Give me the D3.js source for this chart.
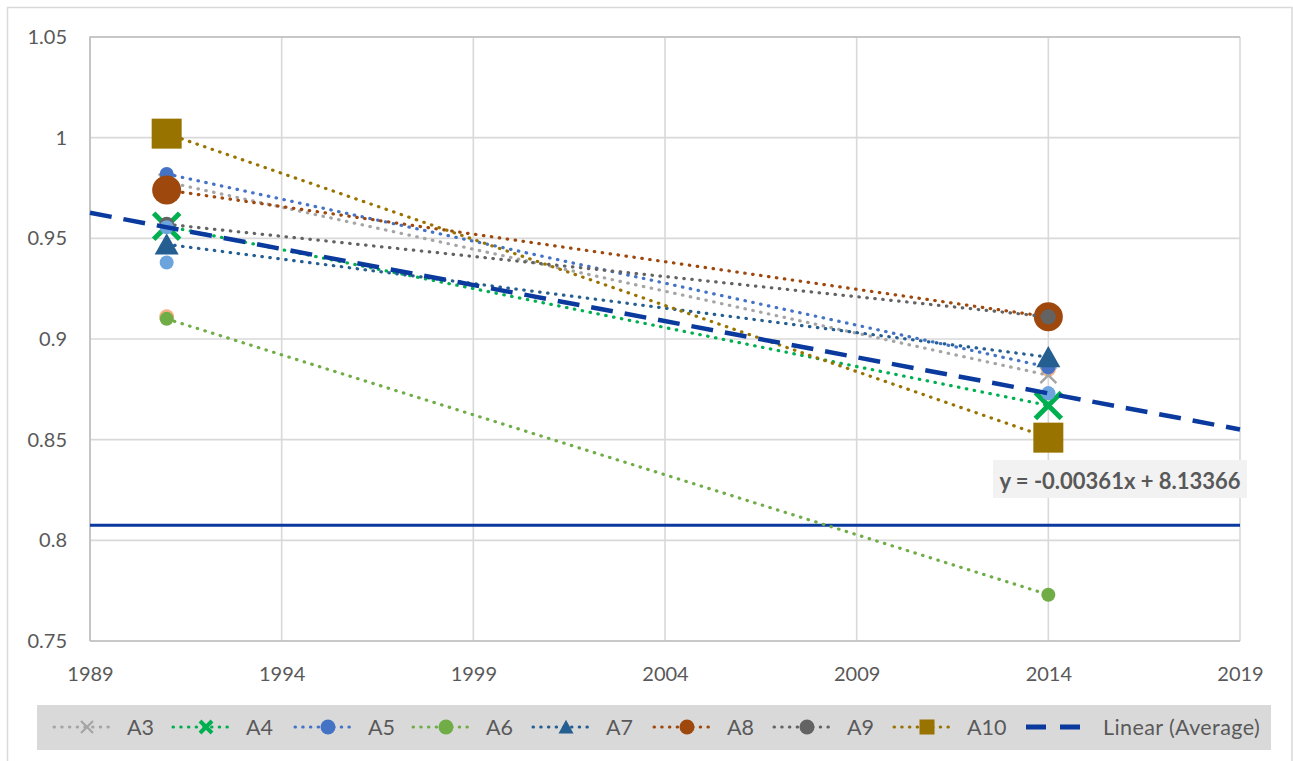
<!DOCTYPE html>
<html>
<head>
<meta charset="utf-8">
<script src="https://cdn.jsdelivr.net/npm/d3@7"></script>
<style>
  html, body { margin: 0; padding: 0; background: #ffffff; }
  svg { display: block; font-family: Lato, "Open Sans", sans-serif; }
</style>
</head>
<body>
<svg id="chart" width="1293" height="761"></svg>
<script>
// ---------------- data ----------------
const years = [1991, 2014];
const A1  = [0.938, 0.873];
const A2  = [0.911, 0.885];
const A3  = [0.978, 0.882];
const A4  = [0.956, 0.867];
const A5  = [0.982, 0.886];
const A6  = [0.910, 0.773];
const A7  = [0.947, 0.891];
const A8  = [0.974, 0.911];
const A9  = [0.957, 0.911];
const A10 = [1.002, 0.851];
const referenceValue = 0.8075;
const xTickValues = [1989, 1994, 1999, 2004, 2009, 2014, 2019];
const yTickValues = [0.75, 0.8, 0.85, 0.9, 0.95, 1, 1.05];
const trendLabel = "y = -0.00361x + 8.13366";
const legendNames = ["A3", "A4", "A5", "A6", "A7", "A8", "A9", "A10"];

// ---------------- styles ----------------
const seriesDefs = [
  { name: "A1",  values: A1,  color: "#6CA5DE", marker: "circle", size: 7,  line: false },
  { name: "A2",  values: A2,  color: "#F4B183", marker: "circle", size: 7.5, line: false },
  { name: "A3",  values: A3,  color: "#A5A5A5", marker: "x",      size: 8,  sw: 2.5, line: true },
  { name: "A4",  values: A4,  color: "#00B050", marker: "x",      size: 13, sw: 5, line: true },
  { name: "A5",  values: A5,  color: "#4472C4", marker: "circle", size: 7,  line: true },
  { name: "A6",  values: A6,  color: "#70AD47", marker: "circle", size: 7,  line: true },
  { name: "A7",  values: A7,  color: "#255E91", marker: "triangle", size: 12, line: true },
  { name: "A8",  values: A8,  color: "#9E480E", marker: "circle", size: 14.5, line: true },
  { name: "A9",  values: A9,  color: "#636363", marker: "circle", size: 7.5, line: true },
  { name: "A10", values: A10, color: "#997300", marker: "square", size: 15, line: true }
];
const averageValues = years.map((_, i) => d3.mean(seriesDefs, s => s.values[i]));
const trendColor = "#0A3A9E";

const svg = d3.select("#chart");
const W = 1293, H = 761;
svg.append("rect").attr("width", W).attr("height", H).attr("fill", "#fff");
svg.append("rect").attr("x", 7.5).attr("y", 7.5).attr("width", 1284.5).attr("height", 780)
  .attr("fill", "none").attr("stroke", "#D9D9D9").attr("stroke-width", 1.5);

const x = d3.scaleLinear().domain([1989, 2019]).range([90, 1240]);
const y = d3.scaleLinear().domain([0.75, 1.05]).range([641, 37]);

// gridlines
const grid = svg.append("g");
grid.selectAll(".hg").data(yTickValues).join("line")
  .attr("x1", x.range()[0]).attr("x2", x.range()[1])
  .attr("y1", d => y(d)).attr("y2", d => y(d))
  .attr("stroke", "#D9D9D9").attr("stroke-width", 1.6);
grid.selectAll(".vg").data(xTickValues).join("line")
  .attr("x1", d => x(d)).attr("x2", d => x(d))
  .attr("y1", y.range()[0]).attr("y2", y.range()[1])
  .attr("stroke", "#D9D9D9").attr("stroke-width", 1.6);
svg.append("path")
  .attr("d", `M${x(1989)},${y(0.75)}V${y(1.05)}H${x(2019)}`)
  .attr("fill", "none").attr("stroke", "#BFBFBF").attr("stroke-width", 1.6);
svg.append("line").attr("x1", x(1989)).attr("x2", x(2019)).attr("y1", y(0.75)).attr("y2", y(0.75))
  .attr("stroke", "#BFBFBF").attr("stroke-width", 1.6);

// axes
const yAxis = svg.append("g").attr("transform", `translate(${x(1989)},0)`)
  .call(d3.axisLeft(y).tickValues(yTickValues).tickSize(0).tickPadding(23)
    .tickFormat(d => d3.format("")(+d.toFixed(2))));
const xAxis = svg.append("g").attr("transform", `translate(0,${y(0.75)})`)
  .call(d3.axisBottom(x).tickValues(xTickValues).tickSize(0).tickPadding(26).tickFormat(d3.format("d")));
[yAxis, xAxis].forEach(a => {
  a.select(".domain").remove();
  a.selectAll("text").attr("fill", "#595959").style("font-size", "20px").style("font-family", "Lato");
});

// reference horizontal line
svg.append("line")
  .attr("x1", x(1989)).attr("x2", x(2019))
  .attr("y1", y(referenceValue)).attr("y2", y(referenceValue))
  .attr("stroke", trendColor).attr("stroke-width", 3);

// marker drawing
function drawMarker(g, type, size, color, sw) {
  if (type === "circle") {
    g.append("circle").attr("r", size).attr("fill", color);
  } else if (type === "square") {
    g.append("rect").attr("x", -size).attr("y", -size).attr("width", 2 * size).attr("height", 2 * size).attr("fill", color);
  } else if (type === "triangle") {
    const h = size * 1.7;
    g.append("path").attr("d", `M0,${-h / 2 - 1}L${size},${h / 2}L${-size},${h / 2}Z`).attr("fill", color);
  } else if (type === "x") {
    g.append("path").attr("d", `M${-size},${-size}L${size},${size}M${size},${-size}L${-size},${size}`)
      .attr("stroke", color).attr("stroke-width", sw).attr("fill", "none");
  }
}

const dotDash = "0.5 7.5";
const lineGen = d3.line().x((d, i) => x(years[i])).y(d => y(d));
seriesDefs.forEach(s => {
  const g = svg.append("g");
  if (s.line) {
    g.append("path").attr("d", lineGen(s.values)).attr("fill", "none")
      .attr("stroke", s.color).attr("stroke-width", 3.2).attr("stroke-linecap", "round")
      .attr("stroke-dasharray", dotDash);
  }
  s.values.forEach((v, i) => {
    const m = g.append("g").attr("transform", `translate(${x(years[i])},${y(v)})`);
    drawMarker(m, s.marker, s.size, s.color, s.sw);
  });
});

// average markers
averageValues.forEach((v, i) => {
  const m = svg.append("g").attr("transform", `translate(${x(years[i])},${y(v)})`);
  drawMarker(m, "circle", 7, "#6CA5DE");
});

// linear trendline of average (least squares)
const mx = d3.mean(years), my = d3.mean(averageValues);
const slope = d3.sum(years, (t, i) => (t - mx) * (averageValues[i] - my)) / d3.sum(years, t => (t - mx) ** 2);
const icpt = my - slope * mx;
svg.append("line")
  .attr("x1", x(1989)).attr("y1", y(icpt + slope * 1989))
  .attr("x2", x(2019)).attr("y2", y(icpt + slope * 2019))
  .attr("stroke", trendColor).attr("stroke-width", 4.5).attr("stroke-dasharray", "22 12");

// trendline label
const lbl = svg.append("g").attr("transform", "translate(1120,481)");
lbl.append("rect").attr("x", -127).attr("y", -21).attr("width", 254).attr("height", 38).attr("fill", "#F2F2F2");
lbl.append("text").attr("text-anchor", "middle").attr("y", 7.5)
  .attr("fill", "#595959").style("font-weight", "bold").style("font-size", "22px")
  .text(trendLabel);

// legend
const legend = svg.append("g");
legend.append("rect").attr("x", 37).attr("y", 705).attr("width", 1234).attr("height", 45).attr("fill", "#D9D9D9");
const legendX = [87, 206, 328, 446, 566, 687, 807, 927];
const legendY = 727;
legendNames.forEach((n, i) => {
  const s = seriesDefs.find(d => d.name === n);
  const cx = legendX[i];
  const g = legend.append("g");
  g.append("line").attr("x1", cx - 33).attr("x2", cx + 25).attr("y1", legendY).attr("y2", legendY)
    .attr("stroke", s.color).attr("stroke-width", 3).attr("stroke-linecap", "round").attr("stroke-dasharray", "0.5 7.2");
  const m = g.append("g").attr("transform", `translate(${cx},${legendY})`);
  const sz = s.marker === "x" ? 6 : 7.5;
  drawMarker(m, s.marker, sz, s.color, s.marker === "x" ? (n === "A4" ? 4 : 2.2) : 0);
  g.append("text").attr("x", cx + 40).attr("y", legendY + 8).attr("fill", "#595959")
    .style("font-size", "21.5px").text(n);
});
legend.append("line").attr("x1", 1026).attr("x2", 1080).attr("y1", legendY).attr("y2", legendY)
  .attr("stroke", trendColor).attr("stroke-width", 5).attr("stroke-dasharray", "20 14");
legend.append("text").attr("x", 1103).attr("y", legendY + 8).attr("fill", "#595959")
  .style("font-size", "21.5px").style("letter-spacing", "0.4px").text("Linear (Average)");
</script>
</body>
</html>
